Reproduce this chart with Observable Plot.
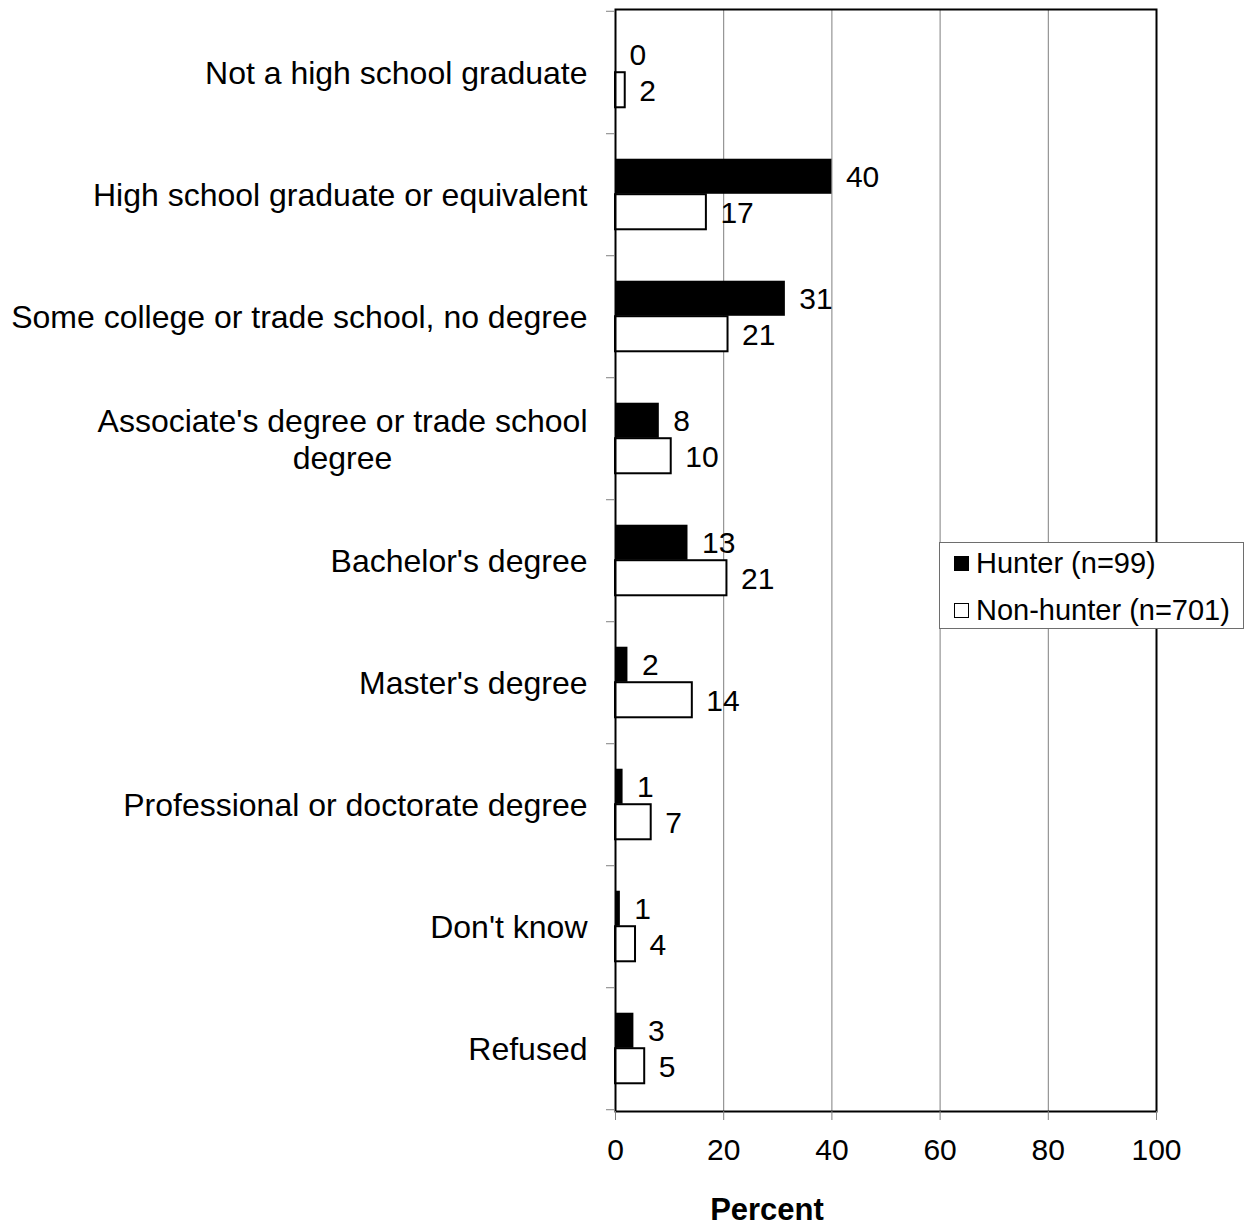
<!DOCTYPE html>
<html>
<head>
<meta charset="utf-8">
<script src="https://cdn.jsdelivr.net/npm/d3@7"></script>
<script src="https://cdn.jsdelivr.net/npm/@observablehq/plot@0.6"></script>
<style>
  body { margin: 0; background: #fff; font-family: "Liberation Sans", Arial, sans-serif; }
  #wrap { position: relative; width: 1247px; height: 1226px; }
  #wrap svg { display: block; }
  .legend { position: absolute; left: 939px; top: 542px; width: 305px; height: 87px; box-sizing: border-box;
            border: 1px solid #6e6e6e; background: #fff; font-size: 29px; color: #000; }
  .legend .row { position: absolute; left: 14px; height: 30px; display: flex; align-items: center; white-space: nowrap; }
  .legend .sw { width: 15px; height: 15px; box-sizing: border-box; margin-right: 7px; flex: none; }
</style>
</head>
<body>
<div id="wrap"></div>
<script>
// ---- data ----
const categories = [
  "Not a high school graduate",
  "High school graduate or equivalent",
  "Some college or trade school, no degree",
  "Associate's degree or trade school\ndegree",
  "Bachelor's degree",
  "Master's degree",
  "Professional or doctorate degree",
  "Don't know",
  "Refused"
];
const hunter    = [0, 40.0, 31.4, 8.1, 13.4, 2.3, 1.4, 0.9, 3.4];
const nonHunter = [1.8, 16.8, 20.8, 10.3, 20.6, 14.2, 6.6, 3.7, 5.4];
const seriesNames = ["Hunter (n=99)", "Non-hunter (n=701)"];
const xTicks = [0, 20, 40, 60, 80, 100];
const gridTicks = [20, 40, 60, 80];
const axisTitle = "Percent";

// ---- layout ----
const W = 1247, H = 1226, mt = 9, mb = 115, ml = 615, mr = 91;
const step = (H - mt - mb) / categories.length;
const barH = 35.5;
const fontFamily = "'Liberation Sans', Arial, Helvetica, sans-serif";

const rows = categories.map((c, i) => ({category: c, hunter: hunter[i], nonHunter: nonHunter[i]}));

const ctx = document.createElement("canvas").getContext("2d");
ctx.font = `32px ${fontFamily}`;
const labelMarks = categories.map(c => {
  const w = d3.max(c.split("\n"), l => ctx.measureText(l).width);
  return Plot.text([c], {
    y: d => d, frameAnchor: "left", textAnchor: "middle",
    dx: -28 - w / 2, fontSize: 32, lineHeight: 1.16, fill: "black"
  });
});

const chart = Plot.plot({
  width: W, height: H,
  marginTop: mt, marginBottom: mb, marginLeft: ml, marginRight: mr,
  style: {fontFamily, background: "white", overflow: "visible", color: "black"},
  x: {domain: [0, 100], ticks: xTicks},
  y: {domain: categories, padding: 0, axis: null},
  marks: [
    Plot.ruleX(gridTicks, {stroke: "#7f7f7f", strokeWidth: 1}),
    Plot.barX(rows, {x: "hunter", y: "category", fill: "black",
      insetTop: step / 2 - barH, insetBottom: step / 2}),
    Plot.barX(rows, {x: "nonHunter", y: "category", fill: "white", stroke: "black", strokeWidth: 2,
      insetTop: step / 2, insetBottom: step / 2 - barH}),
    Plot.text(rows, {x: "hunter", y: "category", text: d => Math.round(d.hunter),
      dy: -barH / 2 + 1, dx: 14, textAnchor: "start", fontSize: 30, fill: "black"}),
    Plot.text(rows, {x: "nonHunter", y: "category", text: d => Math.round(d.nonHunter),
      dy: barH / 2 + 1, dx: 14, textAnchor: "start", fontSize: 30, fill: "black"}),
    Plot.frame({stroke: "black", strokeWidth: 2}),
    Plot.axisX(xTicks, {tickSize: 9, tickPadding: 18, fontSize: 30, stroke: "#808080", fill: "black", label: null}),
    Plot.axisY(categories, {tickSize: 9, dy: step / 2, tickFormat: () => "", stroke: "#808080", label: null}),
    Plot.axisY([categories[0]], {tickSize: 9, dy: -step / 2, tickFormat: () => "", stroke: "#808080", label: null}),
    ...labelMarks,
    Plot.text([axisTitle], {frameAnchor: "bottom", dx: -119, dy: 99, fontWeight: "bold",
      fontSize: 31, lineAnchor: "middle", fill: "black"})
  ]
});

const wrap = document.getElementById("wrap");
wrap.appendChild(chart);

// legend
const legend = document.createElement("div");
legend.className = "legend";
const swatchStyles = [
  {background: "#000", border: "1px solid #000"},
  {background: "#fff", border: "1.5px solid #000"}
];
const rowTops = [5.5, 52];
seriesNames.forEach((name, i) => {
  const row = document.createElement("div");
  row.className = "row";
  row.style.top = rowTops[i] + "px";
  const sw = document.createElement("span");
  sw.className = "sw";
  Object.assign(sw.style, swatchStyles[i]);
  const t = document.createElement("span");
  t.textContent = name;
  row.appendChild(sw);
  row.appendChild(t);
  legend.appendChild(row);
});
wrap.appendChild(legend);
</script>
</body>
</html>
